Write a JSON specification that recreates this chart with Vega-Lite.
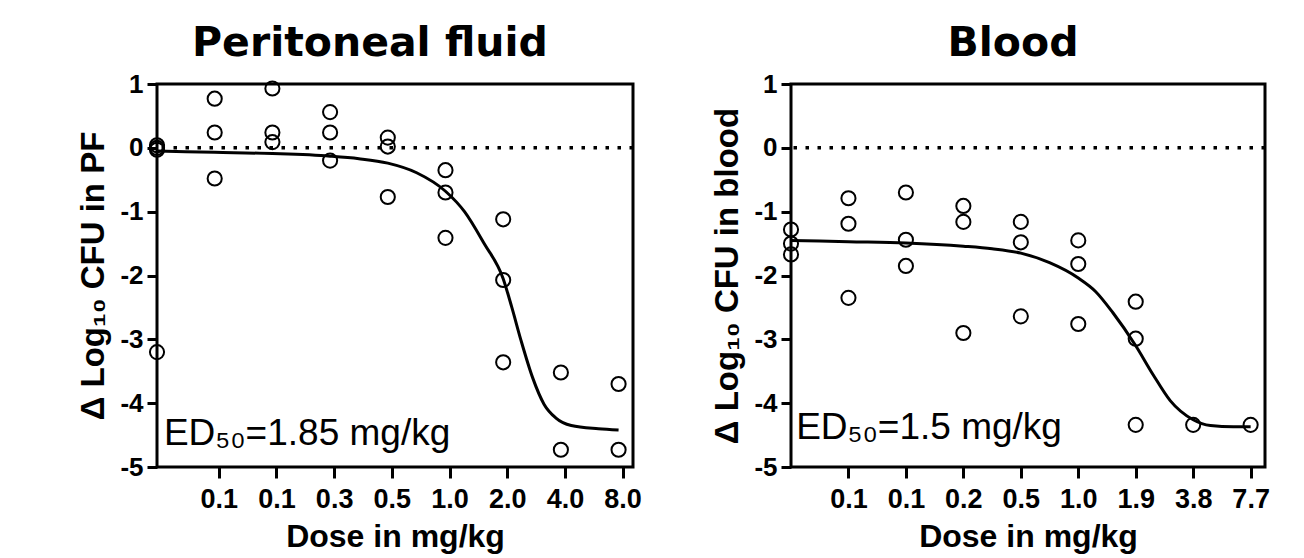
{
  "$schema": "https://vega.github.io/schema/vega-lite/v6.json",
  "background": "white",
  "padding": {"left": 76, "top": 21, "right": 5, "bottom": 0},
  "spacing": 158,
  "bounds": "flush",
  "config": {
    "view": {"stroke": "black", "strokeWidth": 3},
    "font": "Liberation Sans",
    "axis": {
      "grid": false,
      "domain": false,
      "tickColor": "black",
      "tickWidth": 3,
      "labelFont": "Liberation Sans",
      "labelFontWeight": "bold",
      "labelColor": "black",
      "titleFont": "Liberation Sans",
      "titleFontWeight": "bold",
      "titleColor": "black",
      "labelFlush": false,
      "labelOverlap": false
    },
    "title": {"font": "DejaVu Sans", "fontWeight": "bold", "fontSize": 41, "color": "black", "anchor": "middle", "frame": "group"}
  },
  "datasets": {
    "pf_points": [
      {"idx": 0, "value": 0.04}, {"idx": 0, "value": 0.0}, {"idx": 0, "value": -0.03}, {"idx": 0, "value": -3.2},
      {"idx": 1, "value": 0.77}, {"idx": 1, "value": 0.24}, {"idx": 1, "value": -0.48},
      {"idx": 2, "value": 0.93}, {"idx": 2, "value": 0.24}, {"idx": 2, "value": 0.09},
      {"idx": 3, "value": 0.56}, {"idx": 3, "value": 0.24}, {"idx": 3, "value": -0.2},
      {"idx": 4, "value": 0.16}, {"idx": 4, "value": 0.02}, {"idx": 4, "value": -0.77},
      {"idx": 5, "value": -0.35}, {"idx": 5, "value": -0.7}, {"idx": 5, "value": -1.41},
      {"idx": 6, "value": -1.12}, {"idx": 6, "value": -2.07}, {"idx": 6, "value": -3.36},
      {"idx": 7, "value": -3.52}, {"idx": 7, "value": -4.73},
      {"idx": 8, "value": -3.7}, {"idx": 8, "value": -4.73}
    ],
    "pf_curve": [
      {"idx": 0, "value": -0.05}, {"idx": 1, "value": -0.07}, {"idx": 2, "value": -0.09},
      {"idx": 3, "value": -0.13}, {"idx": 3.5, "value": -0.17}, {"idx": 4, "value": -0.24},
      {"idx": 4.5, "value": -0.39}, {"idx": 5, "value": -0.68}, {"idx": 5.33, "value": -1.0},
      {"idx": 5.67, "value": -1.5}, {"idx": 6, "value": -2.05}, {"idx": 6.15, "value": -2.5},
      {"idx": 6.31, "value": -3.02}, {"idx": 6.51, "value": -3.6}, {"idx": 6.71, "value": -4.02},
      {"idx": 6.91, "value": -4.23}, {"idx": 7.18, "value": -4.35}, {"idx": 7.65, "value": -4.4},
      {"idx": 8, "value": -4.42}
    ],
    "bl_points": [
      {"idx": 0, "value": -1.28}, {"idx": 0, "value": -1.5}, {"idx": 0, "value": -1.67},
      {"idx": 1, "value": -0.79}, {"idx": 1, "value": -1.19}, {"idx": 1, "value": -2.35},
      {"idx": 2, "value": -0.7}, {"idx": 2, "value": -1.44}, {"idx": 2, "value": -1.85},
      {"idx": 3, "value": -0.91}, {"idx": 3, "value": -1.16}, {"idx": 3, "value": -2.9},
      {"idx": 4, "value": -1.16}, {"idx": 4, "value": -1.48}, {"idx": 4, "value": -2.64},
      {"idx": 5, "value": -1.45}, {"idx": 5, "value": -1.82}, {"idx": 5, "value": -2.76},
      {"idx": 6, "value": -2.41}, {"idx": 6, "value": -2.99}, {"idx": 6, "value": -4.34},
      {"idx": 7, "value": -4.34},
      {"idx": 8, "value": -4.34}
    ],
    "bl_curve": [
      {"idx": 0, "value": -1.45}, {"idx": 1, "value": -1.47}, {"idx": 2, "value": -1.49},
      {"idx": 3, "value": -1.54}, {"idx": 3.5, "value": -1.58}, {"idx": 4, "value": -1.65},
      {"idx": 4.5, "value": -1.8}, {"idx": 5, "value": -2.04}, {"idx": 5.3, "value": -2.25},
      {"idx": 5.6, "value": -2.58}, {"idx": 6, "value": -3.1}, {"idx": 6.3, "value": -3.55},
      {"idx": 6.6, "value": -3.96}, {"idx": 7, "value": -4.26}, {"idx": 7.3, "value": -4.35},
      {"idx": 7.7, "value": -4.37}, {"idx": 8, "value": -4.37}
    ]
  },
  "hconcat": [
    {
      "width": 476,
      "height": 383,
      "title": {"text": "Peritoneal fluid", "dx": -25, "offset": 6},
      "layer": [
        {
          "data": {"name": "pf_points"},
          "mark": {"type": "point", "shape": "circle", "filled": false, "size": 200, "strokeWidth": 2, "color": "black", "opacity": 1},
          "encoding": {
            "x": {
              "field": "idx", "type": "quantitative",
              "scale": {"domain": [0, 8.25], "nice": false, "zero": false},
              "axis": {
                "title": "Dose in mg/kg",
                "values": [1.07, 2.07, 3.07, 4.07, 5.07, 6.07, 7.07, 8.07],
                "labelExpr": "['0.1','0.1','0.3','0.5','1.0','2.0','4.0','8.0'][round(datum.value)-1]",
                "tickSize": 11, "labelPadding": 8, "labelFontSize": 27,
                "titleFontSize": 32, "titlePadding": 9
              }
            },
            "y": {
              "field": "value", "type": "quantitative",
              "scale": {"domain": [-5, 1], "nice": false, "zero": false},
              "axis": {
                "title": "Δ Log₁₀ CFU in PF",
                "values": [-5, -4, -3, -2, -1, 0, 1],
                "labelExpr": "'' + datum.value",
                "tickSize": 10, "labelPadding": 4, "labelFontSize": 26,
                "titleFontSize": 33, "titlePadding": 9
              }
            }
          }
        },
        {
          "data": {"name": "pf_curve"},
          "mark": {"type": "line", "color": "black", "strokeWidth": 3, "interpolate": "monotone"},
          "encoding": {
            "x": {"field": "idx", "type": "quantitative"},
            "y": {"field": "value", "type": "quantitative"}
          }
        },
        {
          "data": {"values": [{"ref": 0}]},
          "mark": {"type": "rule", "color": "black", "strokeWidth": 3.5, "strokeDash": [3.5, 8.5]},
          "encoding": {"y": {"field": "ref", "type": "quantitative"}}
        },
        {
          "data": {"values": [{"idx": 0.12, "value": -4.66, "label": "ED₅₀=1.85 mg/kg"}]},
          "mark": {"type": "text", "align": "left", "baseline": "alphabetic", "fontSize": 37, "font": "Liberation Sans", "color": "black"},
          "encoding": {
            "x": {"field": "idx", "type": "quantitative"},
            "y": {"field": "value", "type": "quantitative"},
            "text": {"field": "label"}
          }
        }
      ]
    },
    {
      "width": 474,
      "height": 383,
      "title": {"text": "Blood", "dx": -15, "offset": 6},
      "layer": [
        {
          "data": {"name": "bl_points"},
          "mark": {"type": "point", "shape": "circle", "filled": false, "size": 200, "strokeWidth": 2, "color": "black", "opacity": 1},
          "encoding": {
            "x": {
              "field": "idx", "type": "quantitative",
              "scale": {"domain": [0, 8.25], "nice": false, "zero": false},
              "axis": {
                "title": "Dose in mg/kg",
                "values": [1, 2, 3, 4, 5, 6, 7, 8],
                "labelExpr": "['0.1','0.1','0.2','0.5','1.0','1.9','3.8','7.7'][round(datum.value)-1]",
                "tickSize": 11, "labelPadding": 8, "labelFontSize": 27,
                "titleFontSize": 32, "titlePadding": 9
              }
            },
            "y": {
              "field": "value", "type": "quantitative",
              "scale": {"domain": [-5, 1], "nice": false, "zero": false},
              "axis": {
                "title": "Δ Log₁₀ CFU in blood",
                "values": [-5, -4, -3, -2, -1, 0, 1],
                "labelExpr": "'' + datum.value",
                "tickSize": 10, "labelPadding": 4, "labelFontSize": 26,
                "titleFontSize": 33, "titlePadding": 9
              }
            }
          }
        },
        {
          "data": {"name": "bl_curve"},
          "mark": {"type": "line", "color": "black", "strokeWidth": 3, "interpolate": "monotone"},
          "encoding": {
            "x": {"field": "idx", "type": "quantitative"},
            "y": {"field": "value", "type": "quantitative"}
          }
        },
        {
          "data": {"values": [{"ref": 0}]},
          "mark": {"type": "rule", "color": "black", "strokeWidth": 3.5, "strokeDash": [3.5, 8.5]},
          "encoding": {"y": {"field": "ref", "type": "quantitative"}}
        },
        {
          "data": {"values": [{"idx": 0.09, "value": -4.56, "label": "ED₅₀=1.5 mg/kg"}]},
          "mark": {"type": "text", "align": "left", "baseline": "alphabetic", "fontSize": 37, "font": "Liberation Sans", "color": "black"},
          "encoding": {
            "x": {"field": "idx", "type": "quantitative"},
            "y": {"field": "value", "type": "quantitative"},
            "text": {"field": "label"}
          }
        }
      ]
    }
  ]
}
